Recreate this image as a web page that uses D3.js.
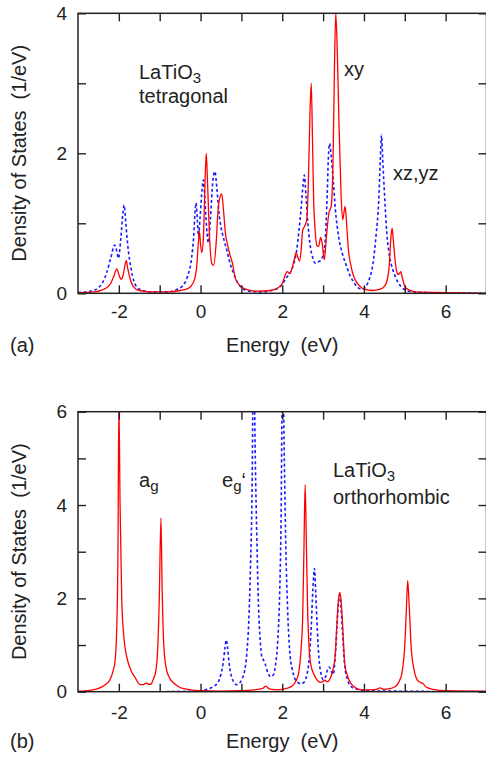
<!DOCTYPE html>
<html lang="en">
<head>
<meta charset="UTF-8">
<title>LaTiO3 density of states</title>
<script src="https://d3js.org/d3.v7.min.js"></script>
<style>
  body { margin: 0; background: #fff; }
  svg { display: block; font-family: "Liberation Sans", Arial, sans-serif; }
  .axis text { font-family: "Liberation Sans", Arial, sans-serif; font-size: 19px; fill: #222; }
  .axis line { stroke: #222; stroke-width: 1.4; }
  .lbl { font-size: 20px; fill: #222; white-space: pre; }
</style>
</head>
<body>
<svg width="486" height="757"></svg>
<script>
// tick positions and labels
var energyTicks = [-2, -1, 0, 1, 2, 3, 4, 5, 6];
var energyLabels = [-2, 0, 2, 4, 6];
var dosTicksA = [0, 1, 2, 3, 4];
var dosLabelsA = [0, 2, 4];
var dosTicksB = [0, 1, 2, 3, 4, 5, 6];
var dosLabelsB = [0, 2, 4, 6];

// (a) tetragonal: xy (red, solid) and xz,yz (blue, dotted), [energy, dos]
var tetraXY = [[-3.0,0.01],[-2.6,0.02],[-2.4,0.05],[-2.3,0.08],[-2.2,0.14],[-2.12,0.25],[-2.05,0.35],[-1.99,0.25],[-1.95,0.2],[-1.9,0.25],[-1.85,0.4],[-1.82,0.47],[-1.78,0.35],[-1.72,0.2],[-1.65,0.1],[-1.5,0.04],[-1.2,0.02],[-0.8,0.02],[-0.5,0.04],[-0.3,0.07],[-0.18,0.15],[-0.1,0.35],[-0.05,0.75],[-0.03,0.89],[0.0,0.7],[0.03,0.58],[0.07,0.8],[0.11,1.6],[0.14,2.0],[0.17,1.6],[0.22,0.8],[0.28,0.42],[0.32,0.4],[0.38,0.7],[0.43,1.2],[0.47,1.36],[0.52,1.42],[0.56,1.2],[0.61,0.85],[0.66,0.7],[0.72,0.55],[0.78,0.43],[0.85,0.22],[0.95,0.12],[1.1,0.06],[1.4,0.03],[1.7,0.04],[1.9,0.08],[2.0,0.14],[2.08,0.27],[2.12,0.31],[2.18,0.28],[2.25,0.38],[2.3,0.5],[2.34,0.58],[2.38,0.52],[2.42,0.46],[2.46,0.6],[2.5,0.9],[2.55,0.96],[2.6,1.05],[2.64,1.6],[2.68,2.6],[2.71,3.0],[2.74,2.2],[2.77,1.3],[2.8,0.95],[2.85,0.68],[2.89,0.67],[2.94,0.8],[2.98,0.7],[3.03,0.48],[3.08,0.8],[3.14,1.14],[3.2,1.25],[3.24,1.8],[3.28,3.3],[3.31,4.0],[3.35,3.4],[3.39,2.4],[3.44,1.4],[3.48,1.05],[3.51,1.15],[3.54,1.24],[3.58,0.95],[3.62,0.62],[3.68,0.4],[3.75,0.24],[3.82,0.16],[3.9,0.1],[4.0,0.06],[4.2,0.04],[4.4,0.06],[4.5,0.1],[4.57,0.19],[4.62,0.4],[4.66,0.8],[4.69,0.93],[4.72,0.75],[4.77,0.43],[4.82,0.28],[4.85,0.27],[4.9,0.31],[4.94,0.22],[5.0,0.1],[5.1,0.05],[5.3,0.02],[6.0,0.01],[7.0,0.0]];
var tetraXZ = [[-3.0,0.01],[-2.7,0.03],[-2.5,0.08],[-2.4,0.15],[-2.3,0.29],[-2.2,0.5],[-2.1,0.69],[-2.05,0.6],[-2.01,0.5],[-1.95,0.8],[-1.9,1.15],[-1.87,1.26],[-1.83,1.0],[-1.77,0.62],[-1.7,0.35],[-1.63,0.17],[-1.5,0.06],[-1.2,0.02],[-0.8,0.02],[-0.6,0.05],[-0.45,0.1],[-0.32,0.24],[-0.22,0.5],[-0.17,0.8],[-0.13,1.2],[-0.11,1.29],[-0.08,1.05],[-0.05,0.82],[-0.01,1.1],[0.04,1.5],[0.07,1.62],[0.11,1.3],[0.16,0.85],[0.19,0.72],[0.24,1.05],[0.3,1.6],[0.35,1.74],[0.4,1.5],[0.45,1.15],[0.5,0.95],[0.58,0.75],[0.65,0.6],[0.72,0.43],[0.8,0.3],[0.9,0.16],[1.0,0.08],[1.2,0.03],[1.5,0.02],[1.8,0.05],[2.0,0.13],[2.1,0.22],[2.2,0.3],[2.27,0.4],[2.35,0.6],[2.41,0.9],[2.46,1.2],[2.51,1.55],[2.54,1.69],[2.58,1.4],[2.62,1.05],[2.68,0.7],[2.75,0.5],[2.81,0.43],[2.88,0.45],[2.94,0.47],[3.0,0.55],[3.05,0.75],[3.1,1.4],[3.13,1.95],[3.16,2.14],[3.2,1.95],[3.25,1.6],[3.3,1.2],[3.38,0.81],[3.48,0.55],[3.58,0.38],[3.66,0.25],[3.75,0.16],[3.85,0.08],[3.95,0.06],[4.05,0.1],[4.14,0.22],[4.22,0.42],[4.3,0.85],[4.36,1.3],[4.4,1.9],[4.43,2.26],[4.46,1.9],[4.5,1.45],[4.56,0.86],[4.62,0.55],[4.7,0.35],[4.78,0.22],[4.9,0.1],[5.1,0.03],[5.5,0.01],[7.0,0.0]];

// (b) orthorhombic: a_g (red, solid) and e_g' (blue, dotted)
var orthoAg = [[-3.0,0.01],[-2.7,0.03],[-2.5,0.07],[-2.35,0.14],[-2.22,0.25],[-2.14,0.45],[-2.09,0.68],[-2.05,1.39],[-2.02,3.2],[-2.0,6.2],[-1.97,4.0],[-1.93,2.0],[-1.88,1.2],[-1.84,0.9],[-1.77,0.62],[-1.7,0.45],[-1.6,0.3],[-1.48,0.15],[-1.4,0.15],[-1.33,0.19],[-1.28,0.16],[-1.22,0.16],[-1.15,0.28],[-1.1,0.42],[-1.05,0.9],[-1.01,2.0],[-0.97,3.72],[-0.94,2.2],[-0.9,1.0],[-0.84,0.5],[-0.75,0.28],[-0.65,0.18],[-0.5,0.09],[-0.3,0.05],[0.0,0.02],[0.5,0.01],[1.0,0.02],[1.3,0.04],[1.52,0.07],[1.6,0.12],[1.68,0.06],[1.9,0.04],[2.1,0.07],[2.24,0.12],[2.33,0.22],[2.4,0.4],[2.46,0.9],[2.5,1.6],[2.53,3.0],[2.56,4.44],[2.59,3.2],[2.62,1.8],[2.66,0.9],[2.7,0.58],[2.76,0.4],[2.83,0.28],[2.93,0.2],[3.0,0.22],[3.04,0.25],[3.1,0.21],[3.18,0.3],[3.25,0.5],[3.3,0.82],[3.34,1.5],[3.38,2.0],[3.41,2.13],[3.44,1.95],[3.48,1.4],[3.53,0.6],[3.6,0.33],[3.68,0.18],[3.8,0.08],[3.95,0.04],[4.2,0.04],[4.3,0.05],[4.4,0.08],[4.48,0.05],[4.6,0.06],[4.75,0.1],[4.85,0.2],[4.93,0.4],[5.0,1.0],[5.04,1.8],[5.07,2.38],[5.11,1.8],[5.16,0.9],[5.22,0.5],[5.3,0.26],[5.38,0.2],[5.44,0.18],[5.52,0.1],[5.7,0.05],[6.0,0.02],[7.0,0.01]];
var orthoEg = [[-3.0,0.0],[-1.0,0.0],[-0.2,0.01],[0.0,0.02],[0.1,0.04],[0.25,0.08],[0.35,0.13],[0.43,0.2],[0.5,0.38],[0.55,0.6],[0.6,0.95],[0.63,1.11],[0.66,0.95],[0.7,0.6],[0.75,0.35],[0.82,0.2],[0.88,0.15],[0.95,0.18],[1.02,0.28],[1.08,0.45],[1.13,0.8],[1.18,1.5],[1.22,2.6],[1.26,4.2],[1.3,7.5],[1.34,5.0],[1.38,3.2],[1.42,1.8],[1.46,1.1],[1.5,0.75],[1.54,0.68],[1.58,0.6],[1.65,0.4],[1.72,0.32],[1.78,0.36],[1.84,0.6],[1.89,1.1],[1.93,1.9],[1.97,3.6],[2.01,7.2],[2.05,5.0],[2.09,3.0],[2.13,1.8],[2.18,0.9],[2.24,0.5],[2.3,0.3],[2.38,0.2],[2.46,0.17],[2.53,0.2],[2.6,0.35],[2.66,0.7],[2.71,1.4],[2.75,2.2],[2.79,2.64],[2.82,2.1],[2.86,1.3],[2.9,0.7],[2.95,0.38],[3.0,0.26],[3.05,0.3],[3.1,0.45],[3.15,0.53],[3.2,0.44],[3.25,0.37],[3.3,0.8],[3.34,1.4],[3.38,1.95],[3.41,2.07],[3.44,1.8],[3.48,1.2],[3.53,0.55],[3.6,0.25],[3.7,0.1],[3.85,0.05],[4.1,0.02],[5.0,0.01],[7.0,0.0]];

var svg = d3.select("svg");
var left = 78, right = 486.5;
var x = d3.scaleLinear().domain([-3, 7]).range([left, right]);

function panel(id, top, bottom, ymax, yTicks, yLabels, red, blue, xPad) {
    var y = d3.scaleLinear().domain([0, ymax]).range([bottom, top]);
    var g = svg.append("g");

    g.append("clipPath").attr("id", "clip" + id)
        .append("rect")
        .attr("x", left).attr("y", top)
        .attr("width", right - left).attr("height", bottom - top);

    var line = d3.line()
        .x(d => x(d[0]))
        .y(d => y(d[1]))
        .curve(d3.curveMonotoneX);

    g.append("path").datum(blue)
        .attr("d", line)
        .attr("clip-path", "url(#clip" + id + ")")
        .attr("fill", "none")
        .attr("stroke", "#1a1aff")
        .attr("stroke-width", 1.6)
        .attr("stroke-dasharray", "3,2.5");

    g.append("path").datum(red)
        .attr("d", line)
        .attr("clip-path", "url(#clip" + id + ")")
        .attr("fill", "none")
        .attr("stroke", "#ff0000")
        .attr("stroke-width", 1.3);

    var fx = d => energyLabels.indexOf(d) >= 0 ? String(d) : "";
    var fy = d => yLabels.indexOf(d) >= 0 ? String(d) : "";

    var ax = g.append("g").attr("class", "axis")
        .attr("transform", "translate(0," + bottom + ")")
        .call(d3.axisBottom(x).tickValues(energyTicks).tickSizeInner(-8).tickSizeOuter(0).tickPadding(xPad).tickFormat(fx));
    ax.select(".domain").remove();

    var at = g.append("g").attr("class", "axis")
        .attr("transform", "translate(0," + top + ")")
        .call(d3.axisTop(x).tickValues(energyTicks).tickSizeInner(-8).tickSizeOuter(0).tickFormat(""));
    at.select(".domain").remove();

    var ay = g.append("g").attr("class", "axis")
        .attr("transform", "translate(" + left + ",0)")
        .call(d3.axisLeft(y).tickValues(yTicks).tickSizeInner(-8).tickSizeOuter(0).tickPadding(11).tickFormat(fy));
    ay.select(".domain").remove();

    var ar = g.append("g").attr("class", "axis")
        .attr("transform", "translate(" + right + ",0)")
        .call(d3.axisRight(y).tickValues(yTicks).tickSizeInner(-8).tickSizeOuter(0).tickFormat(""));
    ar.select(".domain").remove();

    // frame
    g.append("rect")
        .attr("x", left).attr("y", top)
        .attr("width", right - left).attr("height", bottom - top)
        .attr("fill", "none")
        .attr("stroke", "#222")
        .attr("stroke-width", 1.5);

    // y axis title
    g.append("text").attr("class", "lbl")
        .attr("text-anchor", "middle")
        .attr("transform", "translate(26," + ((top + bottom) / 2) + ")rotate(-90)")
        .text("Density of States  (1/eV)");
}

panel("a", 13.3, 293.3, 4, dosTicksA, dosLabelsA, tetraXY, tetraXZ, 11);
panel("b", 411.7, 691.7, 6, dosTicksB, dosLabelsB, orthoAg, orthoEg, 14);

// x axis titles and panel letters
[352, 748].forEach(function(yy, i) {
    svg.append("text").attr("class", "lbl")
        .attr("x", (left + right) / 2).attr("y", yy)
        .attr("text-anchor", "middle")
        .text("Energy  (eV)");
    svg.append("text").attr("class", "lbl")
        .attr("x", 10).attr("y", yy)
        .text(i == 0 ? "(a)" : "(b)");
});

// labels with subscripts
function subLabel(px, py, base, sub, tail) {
    var t = svg.append("text").attr("class", "lbl").attr("x", px).attr("y", py);
    t.append("tspan").text(base);
    t.append("tspan").attr("dy", 4).style("font-size", "15px").text(sub);
    if (tail) t.append("tspan").attr("dy", -4).text(tail);
}

subLabel(139, 79, "LaTiO", "3");
svg.append("text").attr("class", "lbl").attr("x", 139).attr("y", 103).text("tetragonal");
svg.append("text").attr("class", "lbl").attr("x", 344).attr("y", 76).text("xy");
svg.append("text").attr("class", "lbl").attr("x", 393).attr("y", 180).text("xz,yz");

subLabel(139, 487, "a", "g");
subLabel(222, 487, "e", "g", "\u2018");
subLabel(333, 477, "LaTiO", "3");
svg.append("text").attr("class", "lbl").attr("x", 333).attr("y", 504).text("orthorhombic");
</script>
</body>
</html>
